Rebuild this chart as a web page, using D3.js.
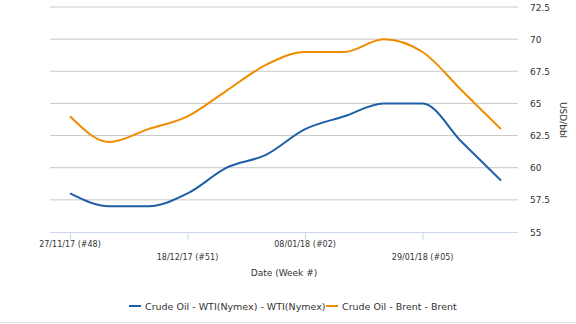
<!DOCTYPE html>
<html><head><meta charset="utf-8">
<script src="https://cdn.jsdelivr.net/npm/d3@7"></script>
<style>
body{margin:0;background:#fff;}
svg{display:block;font-family:"DejaVu Sans",sans-serif;}
</style></head>
<body><svg id="c" width="576" height="324"></svg>
<script>
const weeks = ["27/11/17 (#48)","04/12/17 (#49)","11/12/17 (#50)","18/12/17 (#51)","25/12/17 (#52)","01/01/18 (#01)","08/01/18 (#02)","15/01/18 (#03)","22/01/18 (#04)","29/01/18 (#05)","05/02/18 (#06)","12/02/18 (#07)"];
const wti = [58, 57, 57, 58, 60, 61, 63, 64, 65, 65, 62, 59];
const brent = [64, 62, 63, 64, 66, 68, 69, 69, 70, 69, 66, 63];
const yTicks = [55, 57.5, 60, 62.5, 65, 67.5, 70, 72.5];
const tickLabels = ["27/11/17 (#48)","18/12/17 (#51)","08/01/18 (#02)","29/01/18 (#05)"];
const seriesNames = ["Crude Oil - WTI(Nymex) - WTI(Nymex)","Crude Oil - Brent - Brent"];
const colors = ["#1f5fa8","#f08c00"];

const svg = d3.select("#c");
const L = 50, R = 518, T = 7, B = 232;
const x = d3.scalePoint().domain(weeks).range([70, 501]);
const y = d3.scaleLinear().domain([55, 72.5]).range([B, T]);

// grid
svg.append("g").selectAll("line").data(yTicks.filter(d=>d>55)).join("line")
  .attr("x1", L).attr("x2", R).attr("y1", d=>y(d)).attr("y2", d=>y(d))
  .attr("stroke", "#c8c8c8").attr("stroke-width", 1);

// y labels
svg.append("g").selectAll("text").data(yTicks).join("text")
  .attr("x", 530).attr("y", d=>y(d)+3.5).attr("font-size", 9).attr("fill","#333")
  .text(d=>d);

svg.append("text").attr("transform","translate(560,120) rotate(90)")
  .attr("text-anchor","middle").attr("font-size",9).attr("fill","#333").text("USD/bbl");

// x axis
svg.append("line").attr("x1",L).attr("x2",R).attr("y1",B+0.5).attr("y2",B+0.5)
  .attr("stroke","#ccd6eb");
const tg = svg.append("g").selectAll("g").data(tickLabels).join("g");
tg.append("line").attr("x1",d=>x(d)+0.5).attr("x2",d=>x(d)+0.5).attr("y1",B).attr("y2",B+8)
  .attr("stroke","#ccd6eb");
tg.append("text").attr("x",d=>x(d)).attr("y",(d,i)=> i%2===0 ? B+15 : B+28)
  .attr("text-anchor","middle").attr("font-size",8).attr("fill","#333").text(d=>d);

svg.append("text").attr("x",284).attr("y",276).attr("text-anchor","middle")
  .attr("font-size",9).attr("fill","#333").text("Date (Week #)");

// lines
const line = d3.line().x((d,i)=>x(weeks[i])).y(d=>y(d)).curve(d3.curveMonotoneX);
[wti, brent].forEach((s,k)=>{
  svg.append("path").attr("d", line(s)).attr("fill","none")
    .attr("stroke", colors[k]).attr("stroke-width", 2);
});

// legend
const lx = [129, 326];
seriesNames.forEach((n,k)=>{
  svg.append("line").attr("x1",lx[k]).attr("x2",lx[k]+12).attr("y1",306).attr("y2",306)
    .attr("stroke",colors[k]).attr("stroke-width",2);
  svg.append("text").attr("x",lx[k]+16).attr("y",309.5).attr("font-size",9.5)
    .attr("fill","#333").text(n);
});
svg.append("line").attr("x1",0).attr("x2",576).attr("y1",322.5).attr("y2",322.5)
  .attr("stroke","#dde6f0");
</script></body></html>
